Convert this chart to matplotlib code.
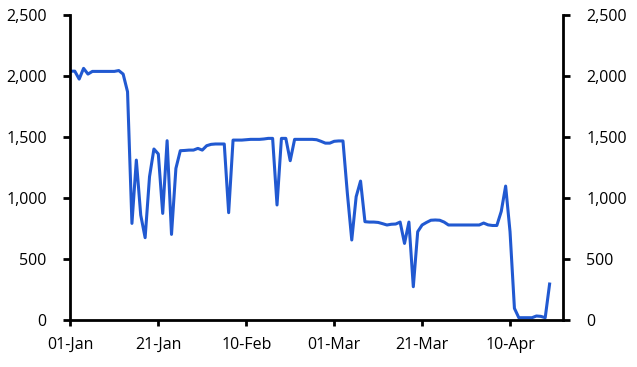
import matplotlib
matplotlib.use("Agg")
import matplotlib.pyplot as plt
import matplotlib.dates as mdates
import pandas as pd

# Daily values, 01-Jan-2020 to 19-Apr-2020
start_date = "2020-01-01"
values = [
    2040, 2040, 1975, 2063, 2016, 2038, 2038, 2038, 2038, 2038,
    2038, 2045, 2016, 1871, 792, 1311, 860, 675, 1175, 1402,
    1361, 874, 1470, 702, 1243, 1388, 1390, 1393, 1393, 1407,
    1393, 1429, 1440, 1443, 1443, 1443, 880, 1475, 1475, 1475,
    1478, 1481, 1481, 1481, 1484, 1489, 1489, 943, 1489, 1489,
    1306, 1481, 1481, 1481, 1481, 1481, 1478, 1465, 1450, 1450,
    1465, 1468, 1468, 1038, 656, 1011, 1139, 806, 803, 803,
    800, 790, 779, 785, 787, 803, 628, 803, 273, 724,
    779, 800, 818, 820, 818, 803, 779, 779, 779, 779,
    779, 779, 779, 779, 795, 780, 775, 775, 890, 1098,
    724, 96, 19, 19, 19, 19, 33, 30, 19, 295,
]
yticks = [0, 500, 1000, 1500, 2000, 2500]
xtick_dates = ["2020-01-01", "2020-01-21", "2020-02-10", "2020-03-01", "2020-03-21", "2020-04-10"]

dates = pd.date_range(start_date, periods=len(values), freq="D")

plt.rcParams["font.family"] = ["Open Sans", "DejaVu Sans"]
plt.rcParams["font.size"] = 11.5

fig = plt.figure(figsize=(6.37, 3.67), dpi=100)
ax = fig.add_axes([0.1105, 0.128, 0.773, 0.831])

ax.plot(dates, values, color="#2159d1", linewidth=2.2)

ax.set_ylim(0, 2500)
ax.set_yticks(yticks)
ax.yaxis.set_major_formatter(matplotlib.ticker.FuncFormatter(lambda v, p: f"{int(v):,}"))
ax.set_xlim(pd.Timestamp(start_date), pd.Timestamp(start_date) + pd.Timedelta(days=112))
ax.set_xticks(pd.to_datetime(xtick_dates))
ax.xaxis.set_major_formatter(mdates.DateFormatter("%d-%b"))

for side in ["left", "right", "bottom"]:
    ax.spines[side].set_linewidth(2)
ax.spines["top"].set_visible(False)

ax.tick_params(axis="y", which="both", left=True, right=True, labelleft=True, labelright=True,
               direction="out", length=5, width=2, pad=12, colors="black")
ax.tick_params(axis="x", direction="out", length=4, width=2, pad=8)

fig.savefig("out.png", dpi=100)
